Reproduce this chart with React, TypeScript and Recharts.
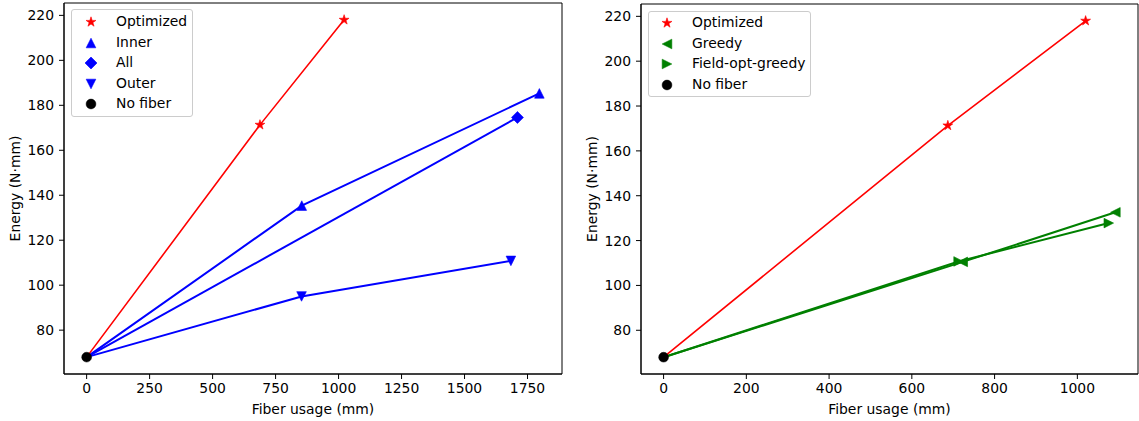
import React from 'react';
import { LineChart, Line, XAxis, YAxis, ReferenceArea, Legend } from 'recharts';

const FONT = '"DejaVu Sans", Verdana, sans-serif';
const FS = 13.9;

// ---- data ----
const noFiberX = [0];
const noFiberY = [68];

// left panel
const leftOptimizedX = [0, 688, 1022];
const leftOptimizedY = [68, 171.3, 218];
const innerX = [0, 854, 1797];
const innerY = [68, 135.4, 185.3];
const allX = [0, 1710];
const allY = [68, 174.6];
const outerX = [0, 853, 1684];
const outerY = [68, 95.0, 110.8];

// right panel
const rightOptimizedX = [0, 687, 1020];
const rightOptimizedY = [68, 171.3, 218];
const greedyX = [0, 723, 1092];
const greedyY = [68, 110.5, 132.6];
const fieldOptX = [0, 713, 1076];
const fieldOptY = [68, 110.7, 127.8];

const leftXTicks = [0, 250, 500, 750, 1000, 1250, 1500, 1750];
const rightXTicks = [0, 200, 400, 600, 800, 1000];
const yTicks = [80, 100, 120, 140, 160, 180, 200, 220];

const leftLegendLabels = ['Optimized', 'Inner', 'All', 'Outer', 'No fiber'];
const rightLegendLabels = ['Optimized', 'Greedy', 'Field-opt-greedy', 'No fiber'];

const RED = '#ff0000';
const BLUE = '#0000ff';
const GREEN = '#008000';
const BLACK = '#000000';

type Pt = { x: number; y: number };
const zip = (xs: number[], ys: number[]): Pt[] => xs.map((x, i) => ({ x, y: ys[i] }));

const pad = (lo: number, hi: number): [number, number] => {
  const d = (hi - lo) * 0.05;
  return [lo - d, hi + d];
};

type Shape = 'star' | 'triUp' | 'triDown' | 'triLeft' | 'triRight' | 'diamond' | 'circle';

function markerPath(shape: Shape, cx: number, cy: number): string | null {
  const r = 4.8;
  switch (shape) {
    case 'triUp':
      return `M${cx},${cy - r}L${cx + r},${cy + r}L${cx - r},${cy + r}Z`;
    case 'triDown':
      return `M${cx - r},${cy - r}L${cx + r},${cy - r}L${cx},${cy + r}Z`;
    case 'triLeft':
      return `M${cx - r},${cy}L${cx + r},${cy - r}L${cx + r},${cy + r}Z`;
    case 'triRight':
      return `M${cx + r},${cy}L${cx - r},${cy - r}L${cx - r},${cy + r}Z`;
    case 'diamond': {
      const d = 6;
      return `M${cx},${cy - d}L${cx + d},${cy}L${cx},${cy + d}L${cx - d},${cy}Z`;
    }
    case 'star': {
      const R = 5.2;
      const ri = R * 0.382;
      let p = '';
      for (let k = 0; k < 10; k++) {
        const rr = k % 2 === 0 ? R : ri;
        const a = -Math.PI / 2 + (k * Math.PI) / 5;
        p += `${k === 0 ? 'M' : 'L'}${cx + rr * Math.cos(a)},${cy + rr * Math.sin(a)}`;
      }
      return p + 'Z';
    }
    default:
      return null;
  }
}

function Marker({ shape, cx, cy, color }: { shape: Shape; cx: number; cy: number; color: string }) {
  if (shape === 'circle') return <circle cx={cx} cy={cy} r={4.9} fill={color} stroke={color} strokeWidth={0.5} />;
  const d = markerPath(shape, cx, cy);
  return <path d={d ?? ''} fill={color} stroke={color} strokeWidth={0.6} strokeLinejoin="miter" />;
}

const makeDot = (shape: Shape, color: string, skipFirst: boolean) => (props: any) => {
  const { cx, cy, index } = props;
  const k = `${shape}-${color}-${index}`;
  if ((skipFirst && index === 0) || cx == null || cy == null) return <g key={k} />;
  return (
    <g key={k}>
      <Marker shape={shape} cx={cx} cy={cy} color={color} />
    </g>
  );
};

type LegendItem = { label: string; shape: Shape; color: string };

function LegendBox({ items, width, height, rowTop, rowStep, markerX, textX }: {
  items: LegendItem[]; width: number; height: number; rowTop: number; rowStep: number; markerX: number; textX: number;
}) {
  return (
    <div
      style={{
        position: 'relative',
        width,
        height,
        boxSizing: 'border-box',
        border: '1px solid #cccccc',
        borderRadius: 3,
        background: 'rgba(255,255,255,0.8)',
        fontFamily: FONT,
        fontSize: FS,
        color: '#000',
      }}
    >
      {items.map((it, i) => {
        const cyRow = rowTop + i * rowStep;
        return (
          <div key={it.label} style={{ position: 'absolute', left: 0, top: cyRow - 10, height: 20, width: width - 2 }}>
            <svg width={20} height={20} style={{ position: 'absolute', left: markerX - 11, top: 0 }}>
              <Marker shape={it.shape} cx={10} cy={10} color={it.color} />
            </svg>
            <span style={{ position: 'absolute', left: textX - 1, top: 10, transform: 'translateY(-50%)', whiteSpace: 'nowrap', lineHeight: 1 }}>
              {it.label}
            </span>
          </div>
        );
      })}
    </div>
  );
}

const tickStyle = { fontSize: FS, fill: '#000', fontFamily: FONT };

function Panel(props: {
  width: number;
  marginTop: number;
  marginRight: number;
  xDomain: [number, number];
  xTicks: number[];
  series: { name: string; data: Pt[]; color: string; shape: Shape; width: number }[];
  legend: LegendItem[];
  legendPos: { left: number; top: number; width: number; height: number; rowTop: number; rowStep: number; markerX: number; textX: number };
}) {
  const yDomain = pad(68, 218);
  const { legendPos } = props;
  return (
    <LineChart
      width={props.width}
      height={421}
      margin={{ top: props.marginTop, right: props.marginRight, bottom: 0, left: 14 }}
      style={{ fontFamily: FONT }}
    >
      <XAxis
        type="number"
        dataKey="x"
        domain={props.xDomain}
        ticks={props.xTicks}
        allowDataOverflow
        height={47}
        tick={tickStyle}
        tickSize={5}
        tickMargin={4}
        axisLine={{ stroke: '#000', strokeWidth: 1 }}
        tickLine={{ stroke: '#000', strokeWidth: 1 }}
        interval={0}
        label={{ value: 'Fiber usage (mm)', position: 'insideBottom', offset: 7, style: { fontSize: FS, fill: '#000', fontFamily: FONT } }}
      />
      <YAxis
        type="number"
        dataKey="y"
        domain={yDomain}
        ticks={yTicks}
        allowDataOverflow
        width={50}
        tick={tickStyle}
        tickSize={5}
        tickMargin={5}
        axisLine={{ stroke: '#000', strokeWidth: 1 }}
        tickLine={{ stroke: '#000', strokeWidth: 1 }}
        interval={0}
        label={{ value: 'Energy (N·mm)', angle: -90, position: 'insideLeft', offset: 1, style: { textAnchor: 'middle', fontSize: FS, fill: '#000', fontFamily: FONT } }}
      />
      <ReferenceArea
        x1={props.xDomain[0]}
        x2={props.xDomain[1]}
        y1={yDomain[0]}
        y2={yDomain[1]}
        fill="none"
        stroke="#000"
        strokeWidth={1}
        ifOverflow="visible"
      />
      {props.series.map((s) => (
        <Line
          key={s.name}
          data={s.data}
          dataKey="y"
          type="linear"
          stroke={s.color}
          strokeWidth={s.width}
          dot={makeDot(s.shape, s.color, true)}
          activeDot={false}
          isAnimationActive={false}
          legendType="none"
        />
      ))}
      <Line
        key="nofiber"
        data={zip(noFiberX, noFiberY)}
        dataKey="y"
        stroke="none"
        dot={makeDot('circle', BLACK, false)}
        activeDot={false}
        isAnimationActive={false}
        legendType="none"
      />
      <Legend
        layout="vertical"
        align="center"
        verticalAlign="middle"
        wrapperStyle={{ position: 'absolute', left: legendPos.left, top: legendPos.top, width: legendPos.width, height: legendPos.height, margin: 0 }}
        content={() => (
          <LegendBox
            items={props.legend}
            width={legendPos.width}
            height={legendPos.height}
            rowTop={legendPos.rowTop}
            rowStep={legendPos.rowStep}
            markerX={legendPos.markerX}
            textX={legendPos.textX}
          />
        )}
      />
    </LineChart>
  );
}

export default function App() {
  const leftXDomain = pad(0, 1797);
  const rightXDomain = pad(0, 1092);
  const leftLegend: LegendItem[] = [
    { label: leftLegendLabels[0], shape: 'star', color: RED },
    { label: leftLegendLabels[1], shape: 'triUp', color: BLUE },
    { label: leftLegendLabels[2], shape: 'diamond', color: BLUE },
    { label: leftLegendLabels[3], shape: 'triDown', color: BLUE },
    { label: leftLegendLabels[4], shape: 'circle', color: BLACK },
  ];
  const rightLegend: LegendItem[] = [
    { label: rightLegendLabels[0], shape: 'star', color: RED },
    { label: rightLegendLabels[1], shape: 'triLeft', color: GREEN },
    { label: rightLegendLabels[2], shape: 'triRight', color: GREEN },
    { label: rightLegendLabels[3], shape: 'circle', color: BLACK },
  ];
  return (
    <div style={{ position: 'absolute', left: 0, top: 0, width: 1139, height: 421, background: '#fff', fontFamily: FONT }}>
      <div style={{ position: 'absolute', left: 0, top: 0 }}>
        <Panel
          width={570}
          marginTop={3}
          marginRight={8}
          xDomain={leftXDomain}
          xTicks={leftXTicks}
          series={[
            { name: 'inner', data: zip(innerX, innerY), color: BLUE, shape: 'triUp', width: 2 },
            { name: 'all', data: zip(allX, allY), color: BLUE, shape: 'diamond', width: 2 },
            { name: 'outer', data: zip(outerX, outerY), color: BLUE, shape: 'triDown', width: 2 },
            { name: 'optimized', data: zip(leftOptimizedX, leftOptimizedY), color: RED, shape: 'star', width: 1.6 },
          ]}
          legend={leftLegend}
          legendPos={{ left: 71, top: 9, width: 122, height: 108, rowTop: 12, rowStep: 20.6, markerX: 20, textX: 45 }}
        />
      </div>
      <div style={{ position: 'absolute', left: 577, top: 0 }}>
        <Panel
          width={562}
          marginTop={4}
          marginRight={1}
          xDomain={rightXDomain}
          xTicks={rightXTicks}
          series={[
            { name: 'greedy', data: zip(greedyX, greedyY), color: GREEN, shape: 'triLeft', width: 2 },
            { name: 'fieldopt', data: zip(fieldOptX, fieldOptY), color: GREEN, shape: 'triRight', width: 2 },
            { name: 'optimized', data: zip(rightOptimizedX, rightOptimizedY), color: RED, shape: 'star', width: 1.6 },
          ]}
          legend={rightLegend}
          legendPos={{ left: 71, top: 11, width: 163, height: 86, rowTop: 11.3, rowStep: 20.4, markerX: 19, textX: 44 }}
        />
      </div>
    </div>
  );
}
